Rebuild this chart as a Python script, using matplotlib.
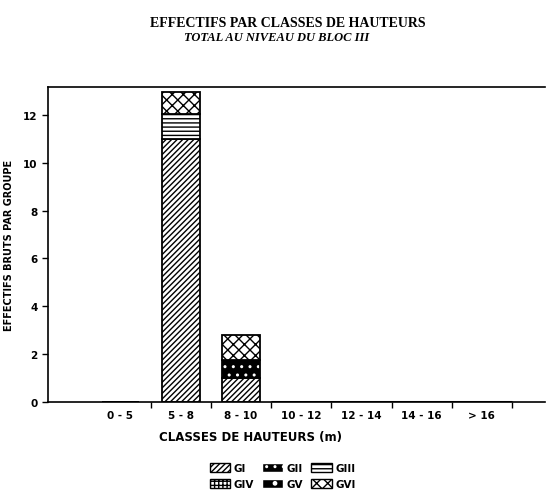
import numpy as np
import matplotlib.pyplot as plt
from matplotlib.patches import Patch

plt.rcParams['font.family'] = ['DejaVu Sans']
plt.rcParams['hatch.linewidth'] = 1.0

# ---- données ----
classes = ['0 - 5', '5 - 8', '8 - 10', '10 - 12', '12 - 14', '14 - 16', '> 16']
groupes = ['GI', 'GII', 'GIII', 'GIV', 'GV', 'GVI']
g1 = [0, 11, 1, 0, 0, 0, 0]
g2 = [0, 0, 0.75, 0, 0, 0, 0]
g3 = [0, 1.05, 0, 0, 0, 0, 0]
g4 = [0, 0, 0, 0, 0, 0, 0]
g5 = [0, 0, 0, 0, 0, 0, 0]
g6 = [0, 0.9, 1.05, 0, 0, 0, 0]
series = [g1, g2, g3, g4, g5, g6]

# style par groupe : (fond, couleur hachure, motif)
styles = [('white', 'black', '//////'),
          ('black', 'white', '..'),
          ('white', 'black', '----'),
          ('white', 'black', '++++'),
          ('black', 'white', '.'),
          ('white', 'black', 'xxx')]

fig = plt.figure(figsize=(5.54, 5.02), dpi=100)
ax = fig.add_axes([0.087, 0.197, 0.897, 0.627])

x = np.arange(len(classes))
w = 0.63
bottom = np.zeros(len(classes))
for vals, (fc, hc, hatch) in zip(series, styles):
    vals = np.array(vals, dtype=float)
    ax.bar(x, vals, w, bottom=bottom, color=fc, edgecolor=hc, hatch=hatch, linewidth=0)
    ax.bar(x, vals, w, bottom=bottom, fill=False, edgecolor='black', linewidth=1.3)
    bottom += vals

# classes vides : trait épais au niveau zéro
vides = [i for i in range(len(classes)) if bottom[i] == 0 and i > 1]
ax.hlines(0, min(vides) - 0.5, max(vides) + 0.5, color='black', linewidth=2.2)

ax.set_xlim(-1.2, 7.05)
ax.set_ylim(0, 13.15)
ax.set_yticks(range(0, 13, 2))
ax.set_xticks(x + 0.5, minor=False)
ax.set_xticklabels([])
ax.set_xticks(x, minor=True)
ax.set_xticklabels(classes, minor=True, fontsize=7.5, fontweight='bold')
ax.tick_params(axis='x', which='minor', length=0, pad=6)
ax.tick_params(axis='x', which='major', length=4, width=1)
ax.tick_params(axis='y', length=4, width=1, labelsize=7.5)
for lab in ax.get_yticklabels():
    lab.set_fontweight('bold')
ax.spines['right'].set_visible(False)
for s in ['left', 'bottom', 'top']:
    ax.spines[s].set_linewidth(1.2)

ax.set_ylabel('EFFECTIFS BRUTS PAR GROUPE', fontsize=7, fontweight='bold')
ax.yaxis.set_label_coords(-0.068, 0.5)
fig.text(0.452, 0.128, 'CLASSES DE HAUTEURS (m)', ha='center', va='center',
         fontsize=8.5, fontweight='bold')

fig.text(0.52, 0.953, 'EFFECTIFS PAR CLASSES DE HAUTEURS', ha='center', va='center',
         fontsize=10, fontweight='bold', family=['Liberation Serif', 'DejaVu Serif'])
fig.text(0.50, 0.925, 'TOTAL AU NIVEAU DU BLOC III', ha='center', va='center',
         fontsize=9, fontweight='bold', style='italic', family=['Liberation Serif', 'DejaVu Serif'])

# légende sur deux lignes (remplissage par colonnes)
handles = [Patch(facecolor=fc, edgecolor=hc, hatch=h, linewidth=1) for fc, hc, h in styles]
order = [0, 3, 1, 4, 2, 5]
leg = fig.legend([handles[i] for i in order], [groupes[i] for i in order],
                 loc='center', bbox_to_anchor=(0.51, 0.05), ncol=3, frameon=False,
                 fontsize=7.5, handlelength=2.0, handleheight=1.0, columnspacing=0.8,
                 handletextpad=0.3, labelspacing=0.5)
for t in leg.get_texts():
    t.set_fontweight('bold')

fig.savefig('out.png', dpi=100)
